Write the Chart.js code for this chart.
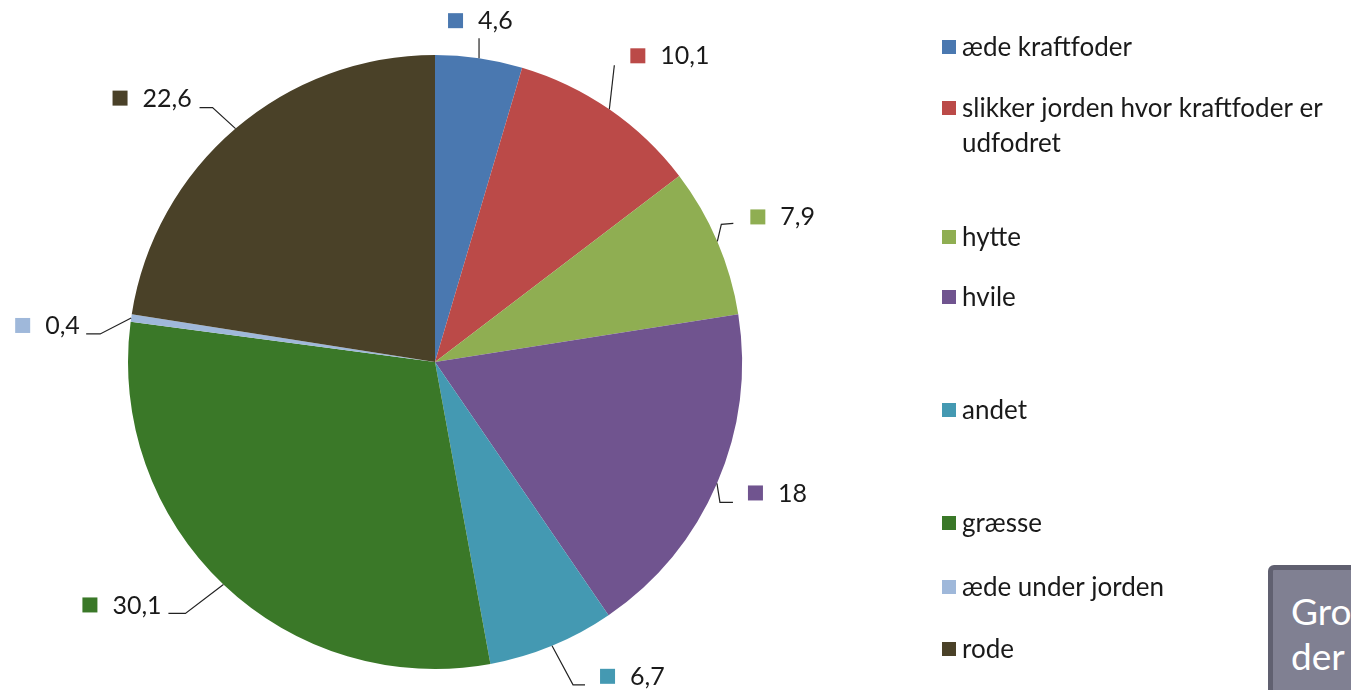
<!DOCTYPE html>
<html>
<head>
<meta charset="utf-8">
<script src="https://cdn.jsdelivr.net/npm/chart.js@4.4.1/dist/chart.umd.min.js"></script>
<style>
  html, body { margin: 0; padding: 0; background: #fff; overflow: hidden; }
  #wrap { position: relative; width: 1351px; height: 690px; }
  #note {
    position: absolute; left: 1268px; top: 565px; width: 140px; height: 140px;
    background: #808092; border: 5px solid #606070; border-radius: 6px;
    box-sizing: border-box; color: #fff; font-family: Lato, sans-serif;
    font-size: 37px; line-height: 45px; padding: 18px 0 0 18px;
  }
</style>
</head>
<body>
<div id="wrap">
  <canvas id="pieCanvas" width="1351" height="690"></canvas>
  <div id="note">Gro<br>der</div>
</div>
<script>
const labels = ['æde kraftfoder', 'slikker jorden hvor kraftfoder er udfodret', 'hytte', 'hvile',
  'andet', 'græsse', 'æde under jorden', 'rode'];
const values = [4.6, 10.1, 7.9, 18, 6.7, 30.1, 0.4, 22.6];
const valueText = ['4,6', '10,1', '7,9', '18', '6,7', '30,1', '0,4', '22,6'];
const colors = ['#4a78b0', '#bb4a48', '#8fae52', '#70548f', '#4499b2', '#3a7828', '#9fb8da', '#4a4128'];

// legend lines (wrapped text) and their baselines
const legendLines = [['æde kraftfoder'], ['slikker jorden hvor kraftfoder er', 'udfodret'], ['hytte'], ['hvile'],
  ['andet'], ['græsse'], ['æde under jorden'], ['rode']];
const legendY = [47, 108, 237, 297, 410, 523, 587, 649];

// leader elbow / end and label box, all relative to the slice's outer edge point
const leaders = [
  { elbow: [0, -20], end: [0, -20], box: [-31, -38] },
  { elbow: [5, -44], end: [5, -44], box: [21, -54] },
  { elbow: [4, -17], end: [16, -18], box: [33, -25] },
  { elbow: [3, 19], end: [16, 19], box: [31, 9] },
  { elbow: [21, 39], end: [33, 39], box: [48, 30] },
  { elbow: [-38, 29], end: [-55, 29], box: [-141, 20] },
  { elbow: [-31, 16], end: [-45, 16], box: [-116, 7] },
  { elbow: [-23, -21], end: [-36, -21], box: [-123, -31] }
];

const LABEL_FONT = '25px Lato, "Liberation Sans", sans-serif';
const LEGEND_FONT = '26px Lato, "Liberation Sans", sans-serif';

const sliceLabels = {
  id: 'sliceLabels',
  afterDatasetsDraw(chart) {
    const ctx = chart.ctx;
    const arcs = chart.getDatasetMeta(0).data;
    ctx.save();
    ctx.font = LABEL_FONT;
    ctx.textBaseline = 'middle';
    arcs.forEach((arc, i) => {
      const p = arc.getProps(['x', 'y', 'startAngle', 'endAngle', 'outerRadius'], true);
      const mid = (p.startAngle + p.endAngle) / 2;
      const ex = p.x + Math.cos(mid) * p.outerRadius;
      const ey = p.y + Math.sin(mid) * p.outerRadius;
      const L = leaders[i];
      ctx.strokeStyle = '#222';
      ctx.lineWidth = 1.2;
      ctx.beginPath();
      ctx.moveTo(ex, ey);
      ctx.lineTo(ex + L.elbow[0], ey + L.elbow[1]);
      ctx.lineTo(ex + L.end[0], ey + L.end[1]);
      ctx.stroke();
      const bx = ex + L.box[0], by = ey + L.box[1];
      ctx.fillStyle = colors[i];
      ctx.fillRect(bx, by - 7, 15, 15);
      ctx.fillStyle = '#1a1a1a';
      ctx.fillText(valueText[i], bx + 30, by + 1);
    });
    ctx.restore();
  }
};

const sideLegend = {
  id: 'sideLegend',
  afterDraw(chart) {
    const ctx = chart.ctx;
    ctx.save();
    ctx.font = LEGEND_FONT;
    ctx.textBaseline = 'middle';
    legendLines.forEach((lines, i) => {
      const y = legendY[i];
      ctx.fillStyle = colors[i];
      ctx.fillRect(942, y - 7, 14, 14);
      ctx.fillStyle = '#1a1a1a';
      lines.forEach((t, k) => ctx.fillText(t, 962, y + 1 + k * 35));
    });
    ctx.restore();
  }
};

new Chart(document.getElementById('pieCanvas').getContext('2d'), {
  type: 'pie',
  data: {
    labels: labels,
    datasets: [{
      data: values,
      backgroundColor: colors,
      borderWidth: 0
    }]
  },
  options: {
    responsive: false,
    animation: false,
    layout: { padding: { left: 128, right: 609, top: 55, bottom: 21 } },
    plugins: {
      legend: { display: false },
      tooltip: { enabled: false }
    }
  },
  plugins: [sliceLabels, sideLegend]
});
</script>
</body>
</html>
